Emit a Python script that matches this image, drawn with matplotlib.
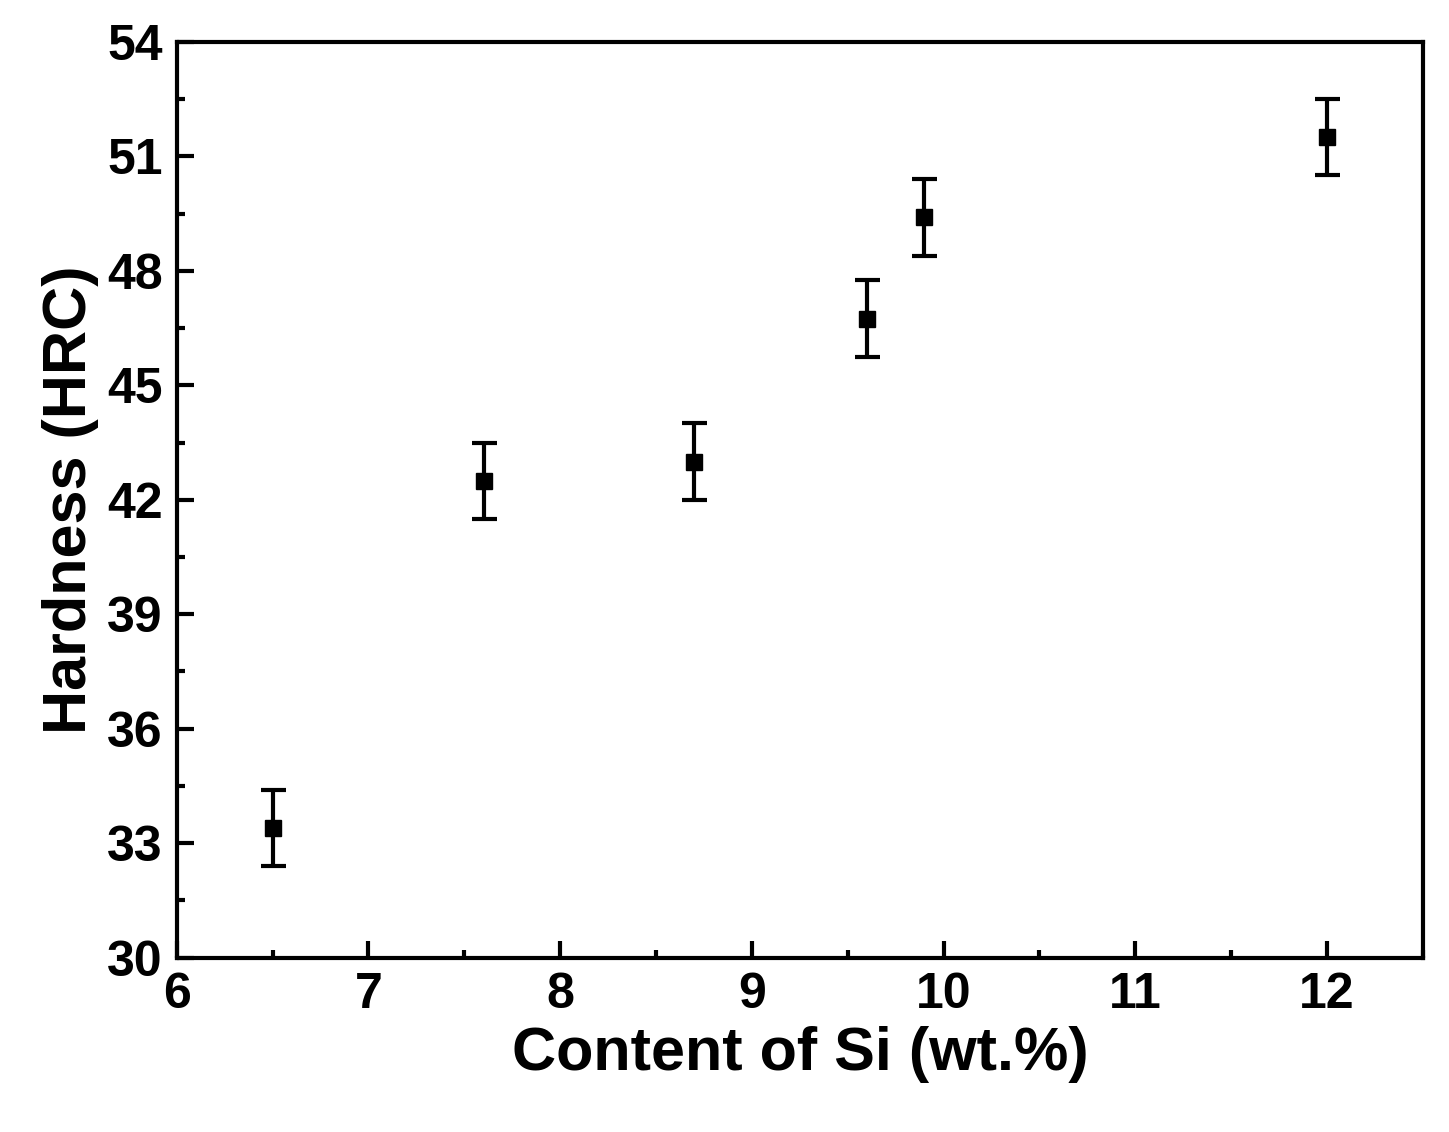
import matplotlib
matplotlib.use("Agg")
import matplotlib.pyplot as plt
from matplotlib.ticker import MultipleLocator

si_content = [6.5, 7.6, 8.7, 9.6, 9.9, 12.0]
hardness = [33.4, 42.5, 43.0, 46.75, 49.4, 51.5]
hardness_err = [1.0, 1.0, 1.0, 1.0, 1.0, 1.0]

plt.rcParams['font.family'] = ['Liberation Sans', 'DejaVu Sans']
plt.rcParams['font.weight'] = 'bold'

fig = plt.figure(figsize=(14.49, 11.32), dpi=100)
ax = fig.add_axes([0.122, 0.154, 0.860, 0.809])

ax.errorbar(si_content, hardness, yerr=hardness_err, fmt='s', color='black',
            markersize=11, elinewidth=3, capsize=9, capthick=3)

ax.set_xlim(6, 12.5)
ax.set_ylim(30, 54)
ax.xaxis.set_major_locator(MultipleLocator(1))
ax.xaxis.set_minor_locator(MultipleLocator(0.5))
ax.yaxis.set_major_locator(MultipleLocator(3))
ax.yaxis.set_minor_locator(MultipleLocator(1.5))
ax.tick_params(which='both', direction='in', width=3, labelsize=36, pad=10)
ax.tick_params(which='major', length=12)
ax.tick_params(which='minor', length=6)
for lbl in ax.get_xticklabels() + ax.get_yticklabels():
    lbl.set_fontweight('bold')
for s in ax.spines.values():
    s.set_linewidth(3)

ax.set_xlabel('Content of Si (wt.%)', fontsize=44, fontweight='bold', labelpad=6)
ax.set_ylabel('Hardness (HRC)', fontsize=44, fontweight='bold', labelpad=6)

fig.savefig('out.png', dpi=100)
